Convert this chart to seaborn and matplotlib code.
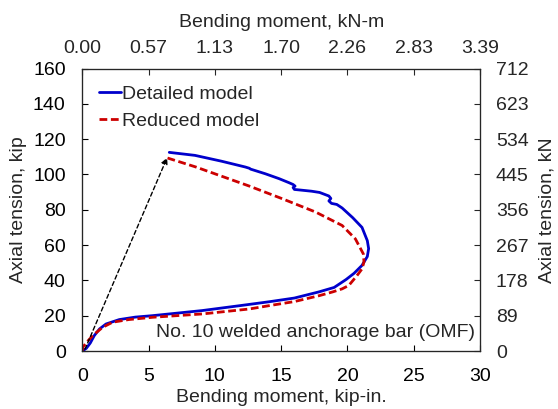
import matplotlib
matplotlib.use("Agg")
import matplotlib.pyplot as plt
import seaborn as sns
import numpy as np

sns.set_style("ticks")
plt.rcParams['font.family'] = ['Liberation Sans', 'DejaVu Sans']
plt.rcParams['font.size'] = 14

# Detailed model (blue)
det_m = [0.0, 0.3, 0.6, 0.9, 1.3, 1.79, 2.79, 4.0, 5.27, 9.04, 12.0, 14.1, 16.0, 17.86, 19.0, 19.9,
         20.5, 21.1, 21.5, 21.6, 21.5, 21.1, 20.4, 19.6, 19.2, 18.8, 18.6, 18.75, 18.6, 17.9, 17.3,
         16.4, 16.0, 15.9, 16.05, 15.9, 15.6, 14.85, 13.8, 12.7, 12.6, 12.3, 10.5, 8.5, 6.56]
det_t = [0.0, 1.5, 4.5, 8.7, 12.5, 15.3, 17.8, 19.2, 20.0, 22.9, 25.8, 27.9, 30.0, 33.5, 36.0, 40.5,
         44.0, 48.5, 53.5, 58.0, 62.5, 70.0, 75.5, 81.0, 83.0, 83.6, 85.0, 86.4, 87.8, 89.8, 90.5,
         91.2, 91.5, 92.6, 93.4, 94.3, 95.3, 97.6, 100.4, 103.0, 103.5, 104.2, 107.5, 110.8, 112.5]

# Reduced model (red dashed)
red_m = [0.0, 0.03, 0.4, 0.78, 1.53, 2.28, 3.5, 5.3, 9.07, 12.6, 14.1, 16.0, 17.9, 18.9, 19.6, 20.1,
         20.7, 21.1, 21.25, 21.2, 20.6, 19.6, 17.6, 15.1, 12.6, 8.57, 6.43]
red_t = [0.0, 2.1, 5.5, 8.7, 13.4, 16.3, 17.8, 19.1, 21.0, 23.8, 25.7, 28.0, 31.4, 33.5, 35.2, 37.1,
         42.5, 46.5, 50.5, 55.0, 63.5, 71.1, 78.7, 86.2, 93.4, 104.2, 109.3]

x_ticks = [0, 5, 10, 15, 20, 25, 30]
top_labels = ["0.00", "0.57", "1.13", "1.70", "2.26", "2.83", "3.39"]
y_ticks = [0, 20, 40, 60, 80, 100, 120, 140, 160]
right_labels = ["0", "89", "178", "267", "356", "445", "534", "623", "712"]

fig = plt.figure(figsize=(5.58, 4.09), dpi=100)
ax = fig.add_axes([0.1475, 0.1418, 0.8602 - 0.1475, 0.8325 - 0.1418])

sns.lineplot(x=det_m, y=det_t, sort=False, estimator=None, ax=ax, color="#0000CC",
             linewidth=2.0, label="Detailed model")
sns.lineplot(x=red_m, y=red_t, sort=False, estimator=None, ax=ax, color="#CC0000",
             linewidth=2.0, linestyle=(0, (2.8, 1.3)), label="Reduced model")

ax.annotate("", xy=(6.4, 109.5), xytext=(0.2, 1.0),
            arrowprops=dict(arrowstyle="-|>", color="black", linestyle=(0, (3, 2)),
                            linewidth=1.0, mutation_scale=9, shrinkA=0, shrinkB=0))

ax.text(29.6, 10.5, "No. 10 welded anchorage bar (OMF)", ha="right", va="center", fontsize=14)

ax.set_xlim(0, 30)
ax.set_ylim(0, 160)
ax.set_xticks(x_ticks)
ax.set_yticks(y_ticks)
ax.set_xlabel("Bending moment, kip-in.", labelpad=2.5)
ax.set_ylabel("Axial tension, kip", labelpad=4.5)
ax.tick_params(direction="in", length=4, width=0.8, colors="black", labelsize=14)
ax.tick_params(axis="x", pad=12.5)
ax.tick_params(axis="y", pad=12)
for s in ax.spines.values():
    s.set_linewidth(0.8)
    s.set_color("black")

leg = ax.legend(loc="upper left", frameon=False, handlelength=1.15, handletextpad=0.05,
                borderaxespad=0.45, labelspacing=0.5, fontsize=14, bbox_to_anchor=(0.0, 1.0))

ax2 = ax.twiny()
ax2.set_xlim(0, 30)
ax2.set_xticks(x_ticks)
ax2.set_xticklabels(top_labels)
ax2.set_xlabel("Bending moment, kN-m", labelpad=10)
ax2.tick_params(direction="in", length=4, width=0.8, labelsize=14, pad=8)

ax3 = ax.twinx()
ax3.set_ylim(0, 160)
ax3.set_yticks(y_ticks)
ax3.set_yticklabels(right_labels)
ax3.set_ylabel("Axial tension, kN", labelpad=7)
ax3.tick_params(direction="in", length=4, width=0.8, labelsize=14, pad=11.5)

fig.savefig("out.png", dpi=100)
